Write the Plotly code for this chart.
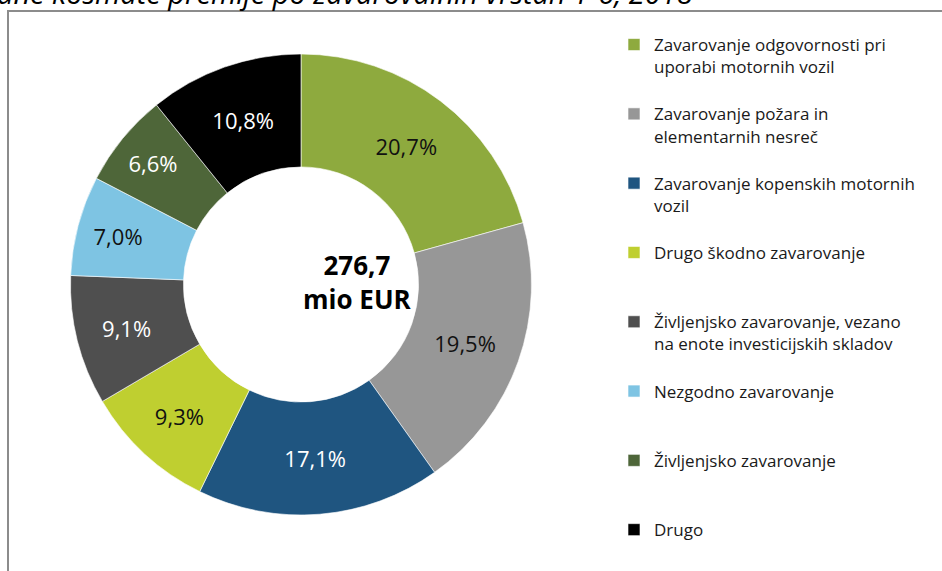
import plotly.graph_objects as go

categories = [
    "Zavarovanje odgovornosti pri<br>uporabi motornih vozil",
    "Zavarovanje požara in<br>elementarnih nesreč",
    "Zavarovanje kopenskih motornih<br>vozil",
    "Drugo škodno zavarovanje",
    "Življenjsko zavarovanje, vezano<br>na enote investicijskih skladov",
    "Nezgodno zavarovanje",
    "Življenjsko zavarovanje",
    "Drugo",
]
shares = [20.7, 19.5, 17.1, 9.3, 9.1, 7.0, 6.6, 10.8]
share_labels = ["20,7%", "19,5%", "17,1%", "9,3%", "9,1%", "7,0%", "6,6%", "10,8%"]
colors = ["#8eaa3e", "#979797", "#1f5580", "#bfcf30", "#4f4f4f", "#7ec4e3", "#4e6639", "#000000"]
text_colors = ["#111111", "#111111", "#ffffff", "#111111", "#ffffff", "#111111", "#ffffff", "#ffffff"]
total_text = "276,7<br>mio EUR"
title_text = "ane kosmate premije po zavarovalnih vrstah 1-6, 2018"

FONT = "'Open Sans', Lato, sans-serif"
W, H = 942, 571

# pad legend entries to 3 lines so spacing is uniform (last one needs none)
legend_labels = []
for i, c in enumerate(categories):
    n = c.count("<br>") + 1
    pad = 0 if i == len(categories) - 1 else 3 - n
    legend_labels.append(c + "<br> " * pad)

fig = go.Figure(go.Pie(
    labels=legend_labels,
    values=shares,
    text=share_labels,
    textinfo="text",
    textposition="inside",
    insidetextorientation="horizontal",
    insidetextfont=dict(color=text_colors, size=22, family=FONT),
    marker=dict(colors=colors, line=dict(color="#ffffff", width=0.6)),
    hole=0.51,
    sort=False,
    direction="clockwise",
    rotation=0,
    domain=dict(x=[70 / W, 532 / W], y=[1 - 515 / H, 1 - 54 / H]),
    hoverinfo="label+text",
))

fig.update_layout(
    width=W, height=H,
    margin=dict(l=0, r=0, t=0, b=0),
    paper_bgcolor="#ffffff",
    font=dict(family=FONT, color="#1a1a1a"),
    legend=dict(
        x=614 / W, xanchor="left",
        y=1 - 27 / H, yanchor="top",
        font=dict(size=17, family=FONT, color="#1a1a1a"),
        valign="top",
        bgcolor="rgba(0,0,0,0)",
        traceorder="normal",
    ),
    annotations=[
        dict(text="<b>" + total_text + "</b>", x=301 / W, y=1 - 282 / H,
             xref="paper", yref="paper", showarrow=False,
             font=dict(size=26, family=FONT, color="#000000")),
        dict(text="<i>" + title_text + "</i>", x=-5 / W, y=1 - 14 / H,
             xref="paper", yref="paper", xanchor="left", yanchor="bottom",
             showarrow=False, font=dict(size=29, family=FONT, color="#000000")),
    ],
    shapes=[
        dict(type="rect", xref="paper", yref="paper",
             x0=8 / W, x1=1.2, y0=-0.2, y1=1 - 11 / H,
             line=dict(color="#8c8c8c", width=2), fillcolor="rgba(0,0,0,0)"),
    ],
)

fig.write_html("out.html", config={"displayModeBar": False},
               post_script="document.body.style.margin='0';")
